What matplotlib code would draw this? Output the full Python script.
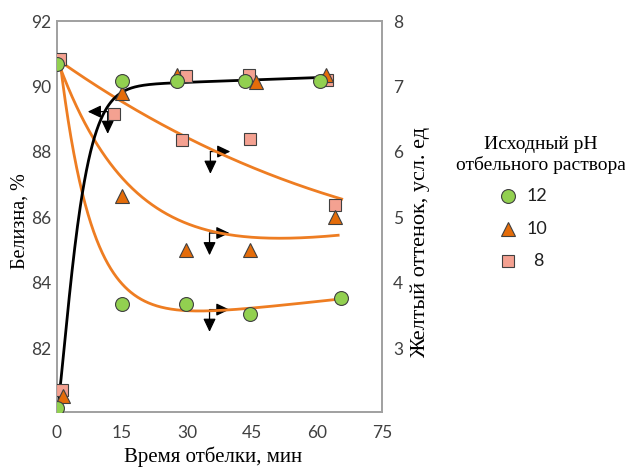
import numpy as np
import matplotlib
matplotlib.use("Agg")
import matplotlib.pyplot as plt
from matplotlib.lines import Line2D

# ---------------- data ----------------
# Whiteness, % (left axis)
white_t_12 = [0, 15, 27.6, 43.3, 60.7]
white_12 = [80.17, 90.18, 90.18, 90.18, 90.17]
white_t_10 = [1.4, 15, 27.6, 46, 62]
white_10 = [80.53, 89.8, 90.35, 90.15, 90.35]
white_t_8 = [1.2, 29.8, 44.4, 62.2]
white_8 = [80.71, 90.32, 90.35, 90.2]

# Yellow tone, conv. units (right axis)
yel_t_12 = [0, 15, 29.8, 44.6, 65.6]
yel_12 = [7.35, 3.67, 3.67, 3.52, 3.77]
yel_t_10 = [15, 29.8, 44.6, 64.2]
yel_10 = [5.33, 4.5, 4.5, 5.0]
yel_t_8 = [0.8, 13.2, 28.9, 44.5, 64.1]
yel_8 = [7.42, 6.58, 6.18, 6.2, 5.19]

# Trend lines
trend_white_t = [0, 2.7, 5.0, 7.1, 9.4, 13.4, 18.6, 25, 35, 50, 63]
trend_white = [80.17, 83.2, 86.2, 87.55, 88.77, 89.62, 90.02, 90.12, 90.14, 90.2, 90.3]
trend_8_t = [0.6, 14.8, 29.4, 35.2, 50, 66]
trend_8 = [7.38, 6.8, 6.23, 6.03, 5.65, 5.27]
trend_10_t = [0.6, 3.6, 7.1, 14.8, 22.5, 29.4, 35.2, 42, 49, 57, 65.2]
trend_10 = [7.36, 6.8, 6.29, 5.62, 5.22, 4.99, 4.78, 4.67, 4.63, 4.68, 4.77]
trend_12_t = [0.6, 3.7, 6.0, 7.8, 10, 13.7, 21.4, 29, 37.5, 45.2, 55, 66]
trend_12 = [7.36, 6.29, 5.27, 4.78, 4.48, 4.1, 3.74, 3.61, 3.57, 3.59, 3.65, 3.78]

x_ticks = [0, 15, 30, 45, 60, 75]
left_ticks = [82, 84, 86, 88, 90, 92]
right_ticks = [3, 4, 5, 6, 7, 8]
legend_labels = ["12", "10", "8"]
legend_title = "Исходный pH\nотбельного раствора"


def fit_trend(t, v, powers):
    """Least-squares fit y = a + b*exp(-(k t)^p) + c*t to the trend readings."""
    t = np.asarray(t, float)
    v = np.asarray(v, float)
    best = None
    for p in powers:
        for k in np.linspace(0.005, 0.8, 320):
            A = np.column_stack([np.ones_like(t), np.exp(-(k * t) ** p), t])
            coef = np.linalg.lstsq(A, v, rcond=None)[0]
            err = np.sum((A @ coef - v) ** 2)
            if best is None or err < best[0]:
                best = (err, k, p, coef)
    _, k, p, c = best
    return lambda x: c[0] + c[1] * np.exp(-(k * x) ** p) + c[2] * x


def to_right(v):
    return np.asarray(v, float) / 2 - 38


GREEN = "#92D050"
ORANGE_T = "#E46C0A"
SALMON = "#F4A191"
EDGE = "#404040"
LINE_OR = "#EE7D22"
SPINE = "#A0A0A0"

serif = "Liberation Serif"
sans = "Lato"

fig = plt.figure(figsize=(6.25, 4.69), dpi=100)
ax = fig.add_axes([57 / 625, 1 - 412 / 469, (382 - 57) / 625, (412 - 21) / 469])
ax2 = ax.twinx()

ax.set_xlim(0, 75)
ax.set_ylim(80.05, 92)
ax2.set_ylim(to_right(80.05), to_right(92))


def draw_trend(tt, vv, color, powers=(1.0,), lw=2.0):
    f = fit_trend(tt, vv, powers)
    xs = np.linspace(tt[0], tt[-1], 400)
    ax2.plot(xs, f(xs), color=color, lw=lw, solid_capstyle="butt", zorder=2)


draw_trend(trend_8_t, trend_8, LINE_OR)
draw_trend(trend_10_t, trend_10, LINE_OR)
draw_trend(trend_12_t, trend_12, LINE_OR)
draw_trend(trend_white_t, to_right(trend_white), "black", powers=np.linspace(0.8, 2.0, 13))

mk = dict(linestyle="none", markeredgecolor=EDGE, markeredgewidth=0.8)
sq = dict(marker="s", markersize=8, markerfacecolor=SALMON, **mk)
tri = dict(marker="^", markersize=9.5, markerfacecolor=ORANGE_T, **mk)
cir = dict(marker="o", markersize=10, markerfacecolor=GREEN, **mk)

ax2.plot(yel_t_8, yel_8, zorder=4, **sq)
ax2.plot(white_t_8, to_right(white_8), zorder=4, **sq)
ax2.plot(yel_t_10, yel_10, zorder=4, **tri)
ax2.plot(white_t_10, to_right(white_10), zorder=4, **tri)
ax2.plot(yel_t_12, yel_12, zorder=4, **cir)
ax2.plot(white_t_12, to_right(white_12), zorder=4, **cir)

# arrows (corner points in left-axis units)
arr = dict(arrowstyle="-|>,head_length=0.8,head_width=0.38", color="black", lw=0.9,
           shrinkA=0, shrinkB=0)


def corner_arrow(t, L, direction):
    dx = 4.6 if direction == "right" else -4.6
    ax.annotate("", xy=(t + dx, L), xytext=(t, L), arrowprops=arr, zorder=5)
    ax.annotate("", xy=(t, L - 0.68), xytext=(t, L), arrowprops=arr, zorder=5)


corner_arrow(11.7, 89.23, "left")
corner_arrow(35.4, 88.01, "right")
corner_arrow(35.2, 85.52, "right")
corner_arrow(35.2, 83.18, "right")

# axes styling
ax.set_xticks(x_ticks)
ax.set_yticks(left_ticks)
ax2.set_yticks(right_ticks)
for a in (ax, ax2):
    a.tick_params(length=0, labelsize=12.5, colors="#404040")
    for s in a.spines.values():
        s.set_color(SPINE)
        s.set_linewidth(1.2)
    for lab in a.get_xticklabels() + a.get_yticklabels():
        lab.set_fontfamily(sans)
ax.tick_params(axis="x", pad=9)
ax.tick_params(axis="y", pad=4)
ax2.tick_params(axis="y", pad=8)

fig.text(213 / 625, 1 - 462 / 469, "Время отбелки, мин", fontfamily=serif, fontsize=15,
         ha="center", va="baseline")
fig.text(20 / 625, 1 - 221 / 469, "Белизна, %", rotation=90, fontfamily=serif,
         fontsize=14.5, ha="center", va="center")
fig.text(420 / 625, 1 - 242 / 469, "Желтый оттенок, усл. ед", rotation=90,
         fontfamily=serif, fontsize=16, ha="center", va="center")

# legend (drawn manually for exact placement)
fig.text(541 / 625, 1 - 155 / 469, legend_title, fontfamily=serif, fontsize=14,
         ha="center", va="center", multialignment="center", linespacing=1.25)
legend_styles = [cir, tri, sq]
legend_rows_y = [196, 229, 261]
legend_right_x = [547, 547, 544]
for style, lab, yy, xr in zip(legend_styles, legend_labels, legend_rows_y, legend_right_x):
    fig.add_artist(Line2D([508 / 625], [1 - yy / 469], transform=fig.transFigure, **style))
    fig.text(xr / 625, 1 - yy / 469, lab, fontfamily=sans, fontsize=13,
             ha="right", va="center", color="#202020")

fig.savefig("out.png", dpi=100)
